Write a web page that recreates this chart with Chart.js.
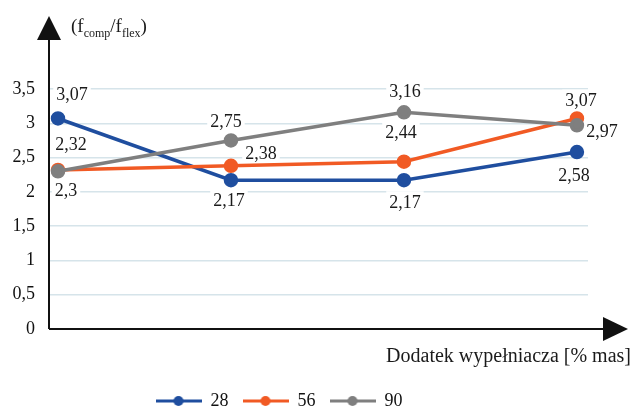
<!DOCTYPE html>
<html>
<head>
<meta charset="utf-8">
<script src="https://cdn.jsdelivr.net/npm/chart.js@4.4.1/dist/chart.umd.min.js"></script>
<style>
html, body { margin: 0; padding: 0; background: #fff; }
#wrap { width: 633px; height: 408px; }
</style>
</head>
<body>
<div id="wrap"><canvas id="chart"></canvas></div>
<script>
// values
const seriesNames = ['28', '56', '90'];
const xSteps = [0, 1, 2, 3];   // four filler levels, the axis has no labels
const values28 = [3.07, 2.17, 2.17, 2.58];
const values56 = [2.32, 2.38, 2.44, 3.07];
const values90 = [2.3, 2.75, 3.16, 2.97];
const yTickValues = [0, 0.5, 1, 1.5, 2, 2.5, 3, 3.5];
const xTitle = 'Dodatek wypełniacza [% mas]';

const colors = ['#1f4e9f', '#f15a24', '#7f7f7f'];
const serif = "'Liberation Serif', 'Times New Roman', serif";
// where each value label sits relative to its point (dx, dy)
const labelOffsets = [
    [[14, -24], [-2, 20], [1, 22], [-3, 23]],
    [[13, -26], [30, -13], [-3, -29], [4, -18]],
    [[8, 19], [-5, -19], [1, -21], [25, 6]]
];

const allValues = [values28, values56, values90];
const fmt = v => String(v).replace('.', ',');

// line + dot marker for the legend
function legendMarker(color) {
    const c = document.createElement('canvas');
    c.width = 46;
    c.height = 12;
    const g = c.getContext('2d');
    g.strokeStyle = color;
    g.lineWidth = 3;
    g.beginPath();
    g.moveTo(0, 6);
    g.lineTo(46, 6);
    g.stroke();
    g.fillStyle = color;
    g.beginPath();
    g.arc(23, 6, 5, 0, Math.PI * 2);
    g.fill();
    return c;
}
const markers = colors.map(legendMarker);

const datasets = seriesNames.map((name, i) => ({
    label: name,
    data: xSteps.map((x, j) => ({ x: x, y: allValues[i][j] })),
    borderColor: colors[i],
    backgroundColor: colors[i],
    borderWidth: 3.5,
    pointRadius: 5.5,
    pointHoverRadius: 5.5,
    order: seriesNames.length - i   // grey on top, blue at the bottom
}));

function labelPos(chart, i, j) {
    const pt = chart.getDatasetMeta(i).data[j];
    return { x: pt.x + labelOffsets[i][j][0], y: pt.y + labelOffsets[i][j][1] };
}

const decorations = {
    id: 'decorations',
    afterLayout(chart) {
        // legend sits left of centre and right at the bottom edge in the original
        chart.legend.left -= 15;
        chart.legend.right -= 15;
        chart.legend.top += 12;
        chart.legend.bottom += 12;
    },
    beforeDatasetsDraw(chart) {
        // white boxes behind the value labels (they cut the grid lines)
        const ctx = chart.ctx;
        ctx.save();
        ctx.font = '18px ' + serif;
        ctx.fillStyle = '#fff';
        chart.data.datasets.forEach((ds, i) => {
            ds.data.forEach((d, j) => {
                const p = labelPos(chart, i, j);
                const w = ctx.measureText(fmt(d.y)).width + 6;
                ctx.fillRect(p.x - w / 2, p.y - 11, w, 22);
            });
        });
        ctx.restore();
    },
    afterDatasetsDraw(chart) {
        const ctx = chart.ctx;
        ctx.save();
        ctx.font = '18px ' + serif;
        ctx.fillStyle = '#1a1a1a';
        ctx.textAlign = 'center';
        ctx.textBaseline = 'middle';
        chart.data.datasets.forEach((ds, i) => {
            ds.data.forEach((d, j) => {
                const p = labelPos(chart, i, j);
                ctx.fillText(fmt(d.y), p.x, p.y + 1);
            });
        });
        ctx.restore();
    },
    afterDraw(chart) {
        const ctx = chart.ctx;
        const area = chart.chartArea;
        ctx.save();
        // axes with arrow heads
        ctx.strokeStyle = '#111';
        ctx.fillStyle = '#111';
        ctx.lineWidth = 2;
        ctx.beginPath();
        ctx.moveTo(area.left, area.bottom);
        ctx.lineTo(area.left, 38);
        ctx.moveTo(area.left, area.bottom);
        ctx.lineTo(605, area.bottom);
        ctx.stroke();
        ctx.beginPath();
        ctx.moveTo(area.left, 16);
        ctx.lineTo(area.left - 12, 40);
        ctx.lineTo(area.left + 12, 40);
        ctx.closePath();
        ctx.fill();
        ctx.beginPath();
        ctx.moveTo(628, area.bottom);
        ctx.lineTo(603, area.bottom - 12);
        ctx.lineTo(603, area.bottom + 12);
        ctx.closePath();
        ctx.fill();

        // y title with subscripts
        ctx.fillStyle = '#1a1a1a';
        ctx.textBaseline = 'alphabetic';
        let x = 71;
        const parts = [['(f', 19, 0], ['comp', 12, 5], ['/f', 19, 0], ['flex', 12, 5], [')', 19, 0]];
        parts.forEach(([t, size, drop]) => {
            ctx.font = size + 'px ' + serif;
            ctx.fillText(t, x, 32 + drop);
            x += ctx.measureText(t).width;
        });

        // x title
        ctx.font = '20px ' + serif;
        ctx.textAlign = 'right';
        ctx.fillText(xTitle, 631, 362);
        ctx.restore();
    }
};

new Chart(document.getElementById('chart'), {
    type: 'line',
    data: { datasets: datasets },
    options: {
        responsive: true,
        maintainAspectRatio: false,
        animation: false,
        layout: { padding: { top: 89, right: 45, left: 0, bottom: 0 } },
        scales: {
            x: {
                type: 'linear',
                min: -0.052,
                max: 3.064,
                ticks: { display: false },
                grid: { display: false },
                border: { display: false },
                afterFit(scale) { scale.height = 37; }
            },
            y: {
                min: 0,
                max: 3.5,
                afterBuildTicks(scale) { scale.ticks = yTickValues.map(v => ({ value: v })); },
                ticks: {
                    font: { family: serif, size: 18 },
                    color: '#111',
                    padding: 14,
                    callback: v => fmt(v)
                },
                grid: { color: '#d6e4ea', lineWidth: 1.5, drawTicks: false },
                border: { display: false },
                afterFit(scale) { scale.width = 49; }
            }
        },
        plugins: {
            legend: {
                position: 'bottom',
                labels: {
                    usePointStyle: true,
                    pointStyleWidth: 46,
                    boxHeight: 12,
                    padding: 14,
                    color: '#111',
                    font: { family: serif, size: 18 },
                    sort: (a, b) => a.datasetIndex - b.datasetIndex,
                    generateLabels(chart) {
                        const items = Chart.defaults.plugins.legend.labels.generateLabels(chart);
                        items.forEach(it => { it.pointStyle = markers[it.datasetIndex]; });
                        return items;
                    }
                }
            },
            tooltip: { enabled: false }
        }
    },
    plugins: [decorations]
});
</script>
</body>
</html>
